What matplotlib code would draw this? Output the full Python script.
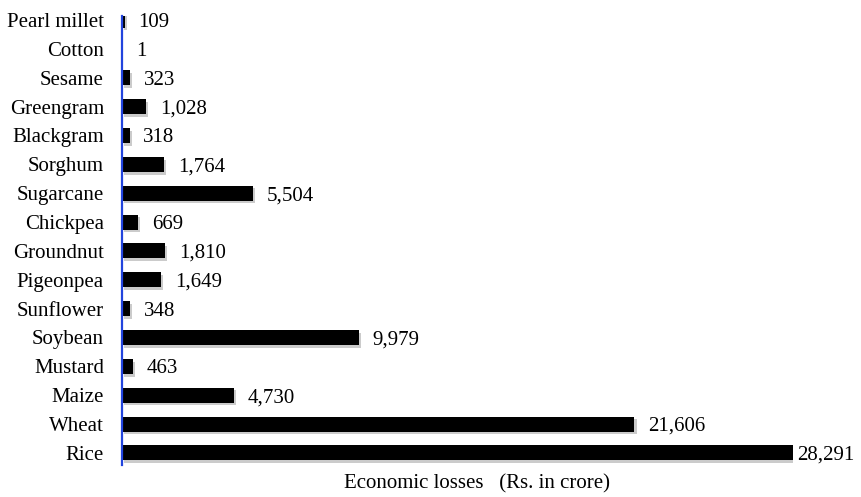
import matplotlib
matplotlib.use("Agg")
import matplotlib.pyplot as plt
import matplotlib.patheffects as pe

crops = ["Pearl millet", "Cotton", "Sesame", "Greengram", "Blackgram", "Sorghum",
         "Sugarcane", "Chickpea", "Groundnut", "Pigeonpea", "Sunflower", "Soybean",
         "Mustard", "Maize", "Wheat", "Rice"]
losses = [109, 1, 323, 1028, 318, 1764, 5504, 669, 1810, 1649, 348, 9979,
          463, 4730, 21606, 28291]

plt.rcParams["font.family"] = ["Liberation Serif", "DejaVu Serif"]

fig = plt.figure(figsize=(8.61, 4.97), dpi=100)
ax = fig.add_axes([122 / 861, 1 - 465 / 497, 671 / 861, 449 / 497])

ypos = list(range(len(crops)))
bars = ax.barh(ypos, losses, height=0.52, color="black")
for b in bars:
    b.set_path_effects([pe.SimplePatchShadow(offset=(1.5, -2), shadow_rgbFace="0.55", alpha=0.45),
                        pe.Normal()])

for i, v in enumerate(losses):
    pad = 3 if v == max(losses) else 10
    ax.annotate(f"{v:,}", (v, i), xytext=(pad, 0), textcoords="offset points",
                va="center_baseline", ha="left", fontsize=15, annotation_clip=False)

ax.set_xlim(0, max(losses))
ax.set_ylim(len(crops) - 1 + 0.42, -0.14)
ax.set_yticks(ypos)
ax.set_yticklabels(crops, fontsize=15, va="center_baseline")
ax.tick_params(axis="y", length=0, pad=13)
ax.set_xticks([])
for s in ["top", "right", "bottom"]:
    ax.spines[s].set_visible(False)
ax.spines["left"].set_color("#2244dd")
ax.spines["left"].set_linewidth(1.6)

fig.text(477 / 861, 1 - 484 / 497, "Economic losses   (Rs. in crore)",
         ha="center", va="center", fontsize=15)

fig.savefig("out.png", dpi=100)
